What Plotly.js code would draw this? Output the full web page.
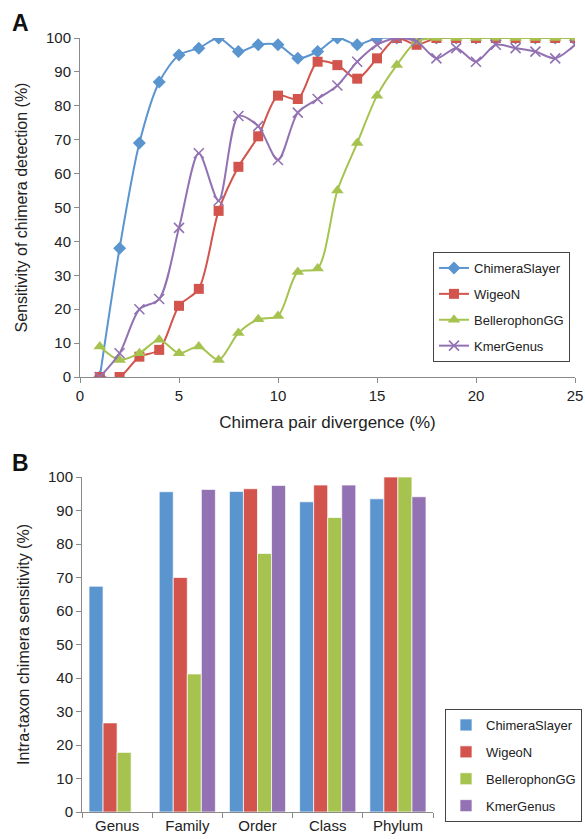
<!DOCTYPE html>
<html>
<head>
<meta charset="utf-8">
<script src="https://cdn.plot.ly/plotly-3.0.1.min.js"></script>
<style>html,body{margin:0;padding:0;background:#fff;}#chart{width:585px;height:839px;}</style>
</head>
<body>
<div id="chart"></div>
<script>
// ---- Panel A data ----
const divergence = [1,2,3,4,5,6,7,8,9,10,11,12,13,14,15,16,17,18,19,20,21,22,23,24,25];
const chimeraSlayerA = [0,38,69,87,95,97,100,96,98,98,94,96,100,98,100,100,100,100,100,100,100,100,100,100,100];
const wigeoNA        = [0,0,6,8,21,26,49,62,71,83,82,93,92,88,94,100,98,100,100,100,100,100,100,100,100];
const bellerophonA   = [9,5,7,11,7,9,5,13,17,18,31,32,55,69,83,92,99,100,100,100,100,100,100,100,100];
const kmerGenusA     = [0,7,20,23,44,66,52,77,74,64,78,82,86,93,98,100,99,94,97,93,98,97,96,94,98];

// ---- Panel B data ----
const taxa = ["Genus","Family","Order","Class","Phylum"];
const chimeraSlayerB = [67.4,95.6,95.7,92.6,93.5];
const wigeoNB        = [26.6,70.0,96.5,97.6,100];
const bellerophonB   = [17.8,41.2,77.2,87.9,100];
const kmerGenusB     = [0,96.3,97.5,97.6,94.1];

const names = ["ChimeraSlayer","WigeoN","BellerophonGG","KmerGenus"];
const colors = ["#5B95CF","#D2544D","#A6C350","#9272B2"];
const symbols = ["diamond","square","triangle-up","x-thin"];
const sizes = [10,10,11,10];

const font = "Liberation Sans, Arial, Helvetica, sans-serif";
const seriesA = [chimeraSlayerA, wigeoNA, bellerophonA, kmerGenusA];
const seriesB = [chimeraSlayerB, wigeoNB, bellerophonB, kmerGenusB];

const traces = [];
seriesA.forEach((ys,i)=>{
  const marker = {symbol: symbols[i], size: sizes[i], color: colors[i]};
  if (symbols[i] === "x-thin") marker.line = {color: colors[i], width: 1.6};
  traces.push({
    type:"scatter", mode:"lines+markers", x: divergence, y: ys, name: names[i],
    line:{color: colors[i], width: 2, shape:"spline", smoothing: 0.8},
    marker: marker, xaxis:"x", yaxis:"y", legend:"legend", legendgroup:"a"+i
  });
});
seriesB.forEach((ys,i)=>{
  traces.push({
    type:"bar", x: taxa, y: ys, name: names[i],
    marker:{color: colors[i], line:{color:"rgba(255,255,255,0.7)", width:1}},
    xaxis:"x2", yaxis:"y2", legend:"legend2", legendgroup:"b"+i
  });
});

const W = 585, H = 839;
const axisCommon = {
  showgrid:false, zeroline:false, showline:true, linecolor:"#8a8a8a", linewidth:1,
  ticks:"outside", ticklen:5, tickcolor:"#8a8a8a",
  tickfont:{family:font, size:15, color:"#222"}
};

const layout = {
  width: W, height: H,
  margin:{l:0, r:0, t:0, b:0},
  paper_bgcolor:"#fff", plot_bgcolor:"#fff",
  font:{family:font, color:"#222"},
  barmode:"group", bargap:0.2, bargroupgap:0.0,
  xaxis: Object.assign({}, axisCommon, {
    domain:[80/W, 575/W], range:[0,25], dtick:5, tick0:0, anchor:"y",
    ticklabeloverflow:"allow",
    title:{text:"Chimera pair divergence (%)", font:{family:font, size:17, color:"#222"}, standoff:13}
  }),
  yaxis: Object.assign({}, axisCommon, {
    domain:[1-377/H, 1-38/H], range:[0,100], dtick:10, tick0:0, anchor:"x",
    title:{text:"Sensitivity of chimera detection (%)", font:{family:font, size:16, color:"#222"}, standoff:14}
  }),
  xaxis2: Object.assign({}, axisCommon, {
    domain:[82/W, 433/W], anchor:"y2", tickson:"boundaries", ticklen:5
  }),
  yaxis2: Object.assign({}, axisCommon, {
    domain:[1-812/H, 1-477/H], range:[0,100], dtick:10, tick0:0, anchor:"x2",
    title:{text:"Intra-taxon chimera sensitivity (%)", font:{family:font, size:16, color:"#222"}, standoff:14}
  }),
  legend:{
    x:433/W, y:1-252/H, xanchor:"left", yanchor:"top",
    bordercolor:"#444", borderwidth:1, bgcolor:"#fff",
    font:{family:font, size:13, color:"#222"}, tracegroupgap:6, traceorder:"grouped"
  },
  legend2:{
    x:445/W, y:1-709/H, xanchor:"left", yanchor:"top",
    bordercolor:"#444", borderwidth:1, bgcolor:"#fff", itemwidth:30,
    font:{family:font, size:13, color:"#222"}, tracegroupgap:7, traceorder:"grouped"
  },
  annotations:[
    {text:"<b>A</b>", x:10/W, y:1-8/H, xref:"paper", yref:"paper", xanchor:"left", yanchor:"top",
     showarrow:false, font:{family:font, size:23, color:"#111"}},
    {text:"<b>B</b>", x:10/W, y:1-448/H, xref:"paper", yref:"paper", xanchor:"left", yanchor:"top",
     showarrow:false, font:{family:font, size:23, color:"#111"}}
  ],
  showlegend:true
};

Plotly.newPlot("chart", traces, layout, {displayModeBar:false, staticPlot:true});
</script>
</body>
</html>
